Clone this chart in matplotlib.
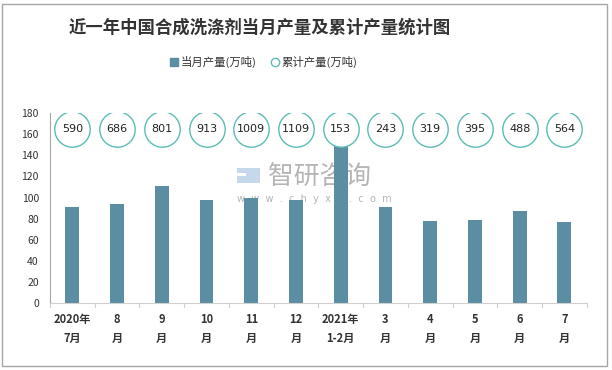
import matplotlib
matplotlib.use("Agg")
import matplotlib.pyplot as plt
from matplotlib.patches import Rectangle
from matplotlib.lines import Line2D
import numpy as np

plt.rcParams['font.family'] = ['Noto Sans CJK SC', 'DejaVu Sans']

categories = ["2020年\n7月", "8\n月", "9\n月", "10\n月", "11\n月", "12\n月",
              "2021年\n1-2月", "3\n月", "4\n月", "5\n月", "6\n月", "7\n月"]
monthly = [91.0, 93.8, 110.9, 97.6, 99.5, 97.6, 151.4, 91.0, 77.7, 78.7, 87.2, 76.8]
cumulative = [590, 686, 801, 913, 1009, 1109, 153, 243, 319, 395, 488, 564]
circle_level = 165

bar_color = '#5b8ea3'
circle_color = '#5bbdb5'

fig = plt.figure(figsize=(6.12, 3.70), dpi=100)
fig.patches.append(Rectangle((0.004, 0.01), 0.988, 0.98, transform=fig.transFigure,
                             fill=False, edgecolor='#a6a6a6', linewidth=1.0))

ax = fig.add_axes([0.0817, 0.181, 0.877, 0.513])
x = np.arange(len(categories))
ax.bar(x, monthly, width=0.31, color=bar_color, zorder=2)
ax.scatter(x, [circle_level] * len(x), s=(25.5) ** 2, facecolors='white',
           edgecolors=circle_color, linewidths=1.0, zorder=3)
for xi, c in zip(x, cumulative):
    ax.text(xi, circle_level, str(c), ha='center', va='center', fontsize=8,
            color='#222222', zorder=4, family=['DejaVu Sans'])

ax.set_xlim(-0.5, len(categories) - 0.5)
ax.set_ylim(0, 180)
ax.set_yticks(range(0, 181, 20))
ax.tick_params(axis='y', length=0, labelsize=7.5, labelcolor='#333333', pad=8)
ax.set_xticks(x)
ax.set_xticklabels(categories, fontsize=8, fontweight='bold', color='#333333', linespacing=1.6)
ax.tick_params(axis='x', length=0, pad=7)
for b in np.arange(-0.5, len(categories), 1.0):
    ax.plot([b, b], [0, -4], color='#d0d0d0', lw=0.8, clip_on=False, transform=ax.transData)

for s in ['top', 'right']:
    ax.spines[s].set_visible(False)
ax.spines['left'].set_color('#a6a6a6')
ax.spines['bottom'].set_color('#d0d0d0')

# watermark (behind bars)
ax.text(268 / 612, 1 - 177 / 370, "智研咨询", fontsize=18.5, color='#b5b5b5', ha='left', va='center',
        transform=fig.transFigure, zorder=1)
ax.text(237 / 612, 1 - 199 / 370, "w  w  w  .  c  h  y  x  x  .  c  o  m", fontsize=7, color='#b5b5b5',
        ha='left', va='center', transform=fig.transFigure, zorder=1, family=['DejaVu Sans'])
ax.add_patch(Rectangle((237 / 612, 1 - 183 / 370), 23 / 612, 15 / 370, transform=fig.transFigure,
                       facecolor='#c6d8ec', edgecolor='none', zorder=1))
ax.add_patch(Rectangle((237 / 612, 1 - 176 / 370), 9 / 612, 3 / 370, transform=fig.transFigure,
                       facecolor='white', edgecolor='none', zorder=1))

fig.text(260 / 612, 0.925, "近一年中国合成洗涤剂当月产量及累计产量统计图", ha='center', va='center',
         fontsize=12.5, fontweight='bold', color='#333333')

handles = [Line2D([], [], marker='s', linestyle='none', markersize=6, markerfacecolor=bar_color,
                  markeredgecolor=bar_color),
           Line2D([], [], marker='o', linestyle='none', markersize=6, markerfacecolor='white',
                  markeredgecolor=circle_color)]
fig.legend(handles, ["当月产量(万吨)", "累计产量(万吨)"], loc='center', bbox_to_anchor=(262 / 612, 0.832),
           ncol=2, frameon=False, fontsize=8.2, handletextpad=0.0, columnspacing=1.0,
           handlelength=1.2, labelcolor='#333333')

fig.savefig("out.png", dpi=100)
